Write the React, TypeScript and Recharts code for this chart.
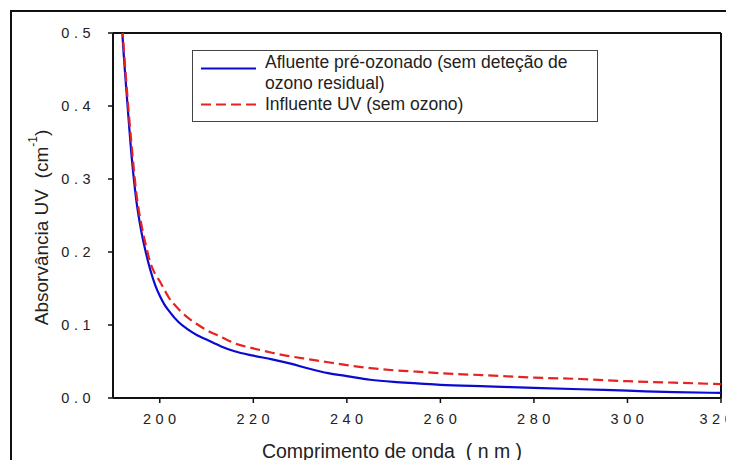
import { LineChart, Line, XAxis, YAxis, ReferenceLine, Legend } from "recharts";

// comprimento de onda (nm)
const wavelengths = [
  191.5, 192, 193, 194, 195, 196, 197, 198, 199, 200, 201, 202, 204, 206, 208, 210, 213, 216, 220, 224, 228, 232,
  236, 240, 245, 250, 255, 260, 270, 280, 290, 300, 310, 320,
];

// absorvância UV (cm-1)
const afluente = [
  0.56, 0.5, 0.41, 0.33, 0.27, 0.23, 0.2, 0.175, 0.155, 0.14, 0.128, 0.119, 0.104, 0.094, 0.086, 0.08, 0.071, 0.064,
  0.058, 0.053, 0.047, 0.04, 0.034, 0.03, 0.025, 0.022, 0.02, 0.018, 0.016, 0.014, 0.012, 0.01, 0.008, 0.007,
];
const influente = [
  0.57, 0.51, 0.42, 0.345, 0.28, 0.24, 0.21, 0.185, 0.17, 0.16, 0.148, 0.137, 0.122, 0.11, 0.101, 0.093, 0.084, 0.075,
  0.068, 0.062, 0.057, 0.053, 0.049, 0.045, 0.041, 0.038, 0.036, 0.034, 0.031, 0.028, 0.026, 0.023, 0.021, 0.019,
];

const xTicks = [200, 220, 240, 260, 280, 300, 320];
const yTicks = [0, 0.1, 0.2, 0.3, 0.4, 0.5];

const data = wavelengths.map((wl, i) => ({ wl, afluente: afluente[i], influente: influente[i] }));

const FONT = "'Liberation Sans', Arial, sans-serif";
const tickStyle = { fontSize: 14.5, fill: "#222", fontFamily: FONT, letterSpacing: 4.5 };

function YTitle(props: any) {
  const vb = props.viewBox || { x: 0, y: 0, width: 0, height: 0 };
  const cx = 33;
  const cy = vb.y + vb.height / 2 + 12;
  return (
    <text
      x={cx}
      y={cy}
      transform={`rotate(-90 ${cx} ${cy})`}
      textAnchor="middle"
      dominantBaseline="central"
      fontSize={19}
      fontFamily={FONT}
      fill="#222"
      style={{ whiteSpace: "pre" }}
    >
      {"Absorvância UV  (cm"}
      <tspan dy={-8} fontSize={12}>
        -1
      </tspan>
      <tspan dy={8}>)</tspan>
    </text>
  );
}

function XTitle(props: any) {
  const vb = props.viewBox || { x: 0, y: 0, width: 0, height: 0 };
  return (
    <text
      x={vb.x + vb.width / 2 - 25}
      y={450}
      textAnchor="middle"
      fontSize={19.5}
      fontFamily={FONT}
      fill="#222"
      style={{ whiteSpace: "pre" }}
    >
      {"Comprimento de onda  ( n m )"}
    </text>
  );
}

function LegendBox({ payload }: any) {
  const items = payload || [];
  return (
    <div
      style={{
        border: "1px solid #444",
        boxSizing: "border-box",
        width: 406,
        height: 72,
        paddingTop: 1,
        fontFamily: FONT,
        fontSize: 17.5,
        lineHeight: "21px",
        color: "#222",
        background: "#fff",
        textAlign: "left",
      }}
    >
      {items.map((entry: any, i: number) => {
        const lines = String(entry.value).split("\n");
        const h = lines.length * 21;
        const lineY = i === 0 ? 16.5 : h / 2;
        return (
          <div key={entry.value} style={{ display: "flex", alignItems: "flex-start" }}>
            <svg width={72} height={h} style={{ flex: "none" }}>
              <line
                x1={8}
                x2={63}
                y1={lineY}
                y2={lineY}
                stroke={entry.color}
                strokeWidth={2.2}
                strokeDasharray={entry.payload?.strokeDasharray}
              />
            </svg>
            <div style={{ whiteSpace: "pre-line" }}>{entry.value}</div>
          </div>
        );
      })}
    </div>
  );
}

export default function App() {
  return (
    <div
      style={{
        position: "relative",
        width: 726,
        height: 460,
        marginBottom: -8,
        overflow: "hidden",
        background: "#fff",
      }}
    >
      <div
        style={{
          position: "absolute",
          left: 2,
          top: 2,
          width: 800,
          height: 520,
          border: "2px solid #111",
          boxSizing: "border-box",
        }}
      />
      <div style={{ position: "absolute", left: 0, top: 0 }}>
        <LineChart width={726} height={460} data={data} margin={{ top: 25, right: 13, bottom: 0, left: 0 }}>
          <XAxis
            dataKey="wl"
            type="number"
            domain={[190, 320]}
            ticks={xTicks}
            allowDataOverflow
            height={70}
            tickSize={5}
            tickMargin={11}
            tick={{ ...tickStyle, dx: 2 }}
            tickLine={{ stroke: "#111", strokeWidth: 1.5 }}
            axisLine={{ stroke: "#111", strokeWidth: 2 }}
            label={<XTitle />}
          />
          <YAxis
            type="number"
            domain={[0, 0.5]}
            ticks={yTicks}
            allowDataOverflow
            width={105}
            tickSize={5}
            tickMargin={13}
            tick={tickStyle}
            tickFormatter={(v: number) => v.toFixed(1)}
            tickLine={{ stroke: "#111", strokeWidth: 1.5 }}
            axisLine={{ stroke: "#111", strokeWidth: 2 }}
            label={<YTitle />}
          />
          <ReferenceLine y={0.5} stroke="#111" strokeWidth={2} />
          <ReferenceLine x={320} stroke="#111" strokeWidth={2} />
          <Legend
            layout="horizontal"
            verticalAlign="middle"
            align="center"
            content={<LegendBox />}
            wrapperStyle={{ position: "absolute", left: 184, top: 42, width: 406, height: 72 }}
          />
          <Line
            type="monotone"
            dataKey="afluente"
            name={"Afluente pré-ozonado (sem deteção de\nozono residual)"}
            stroke="#0a0ad0"
            strokeWidth={2.2}
            dot={false}
            isAnimationActive={false}
          />
          <Line
            type="monotone"
            dataKey="influente"
            name="Influente UV (sem ozono)"
            stroke="#e62222"
            strokeWidth={2.2}
            strokeDasharray="10 5"
            dot={false}
            isAnimationActive={false}
          />
        </LineChart>
      </div>
    </div>
  );
}
